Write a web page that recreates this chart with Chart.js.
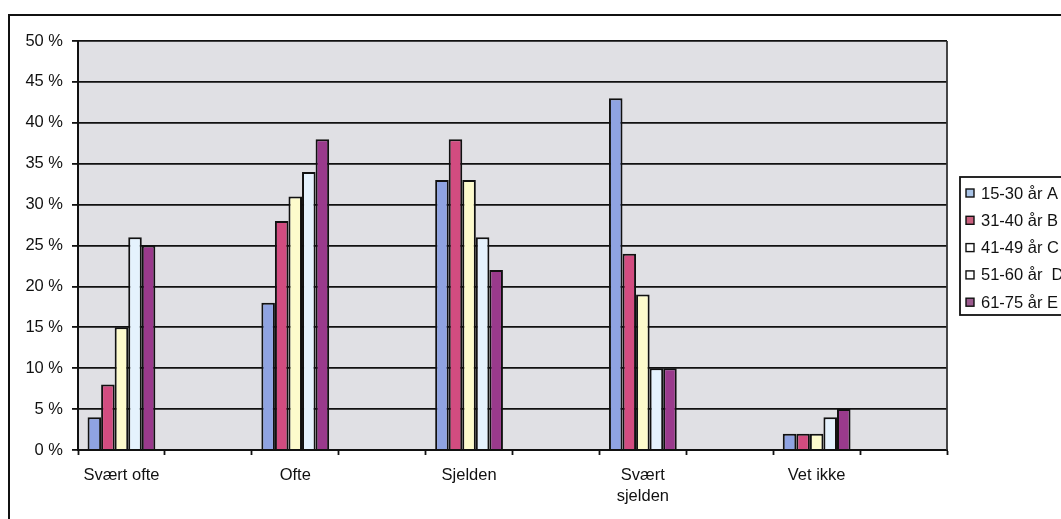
<!DOCTYPE html>
<html lang="no">
<head>
  <meta charset="UTF-8" />
  <title>Aldersgrupper</title>
  <script src="https://cdn.jsdelivr.net/npm/chart.js"></script>
  <style>
    body {
      margin: 0;
      background: #fff;
      overflow: hidden;
      font-family: 'Liberation Sans', Arial, sans-serif;
    }
    .frame {
      position: absolute;
      left: 8px;
      top: 14px;
      width: 1100px;
      height: 600px;
      border-left: 2px solid #111;
      border-top: 2px solid #111;
    }
    .chart-box {
      position: absolute;
      left: 0;
      top: 0;
      width: 1061px;
      height: 519px;
    }
  </style>
</head>
<body>
  <div class="frame"></div>
  <div class="chart-box">
    <canvas id="ageChart"></canvas>
  </div>

  <script>
    // categories (a blank slot sits after each one, as in the original sheet)
    const categories = ['Svært ofte', 'Ofte', 'Sjelden', ['Svært', 'sjelden'], 'Vet ikke'];

    const seriesNames = ['15-30 år A', '31-40 år B', '41-49 år C', '51-60 år  D', '61-75 år E'];
    const groupA = [4, 18, 33, 43, 2];
    const groupB = [8, 28, 38, 24, 2];
    const groupC = [15, 31, 33, 19, 2];
    const groupD = [26, 34, 26, 10, 4];
    const groupE = [25, 38, 22, 10, 5];

    const seriesColors = ['#8fa3e2', '#d24c80', '#fdfbcc', '#e5f2fd', '#9a3a8c'];
    const legendColors = ['#a9c3e6', '#c9607e', '#ffffff', '#ffffff', '#9b5a8e'];

    const yTicks = [0, 5, 10, 15, 20, 25, 30, 35, 40, 45, 50];

    // interleave empty slots between categories
    const labels = [];
    categories.forEach(c => { labels.push(c); labels.push(''); });
    const spread = arr => {
      const out = [];
      arr.forEach(v => { out.push(v); out.push(null); });
      return out;
    };

    const datasets = [groupA, groupB, groupC, groupD, groupE].map((arr, i) => ({
      label: seriesNames[i],
      data: spread(arr),
      backgroundColor: seriesColors[i],
      borderColor: '#111',
      borderWidth: 2,
      borderSkipped: 'bottom',
      categoryPercentage: 0.78,
      barPercentage: 1.0
    }));

    const plotBackground = {
      id: 'plotBackground',
      beforeDraw(chart) {
        const { ctx, chartArea: a } = chart;
        ctx.save();
        ctx.fillStyle = '#e0e0e4';
        ctx.fillRect(a.left, a.top, a.right - a.left, a.bottom - a.top);
        ctx.restore();
      },
      afterDraw(chart) {
        const { ctx, chartArea: a } = chart;
        ctx.save();
        ctx.strokeStyle = '#333';
        ctx.lineWidth = 1.8;
        ctx.beginPath();
        ctx.moveTo(a.right, a.top);
        ctx.lineTo(a.right, a.bottom);
        ctx.stroke();
        ctx.restore();
      }
    };

    // legend box like the spreadsheet one
    const boxLegend = {
      id: 'boxLegend',
      afterDraw(chart) {
        const { ctx } = chart;
        const x = 960, y = 177, h = 138, step = 27.3;
        ctx.save();
        ctx.strokeStyle = '#111';
        ctx.lineWidth = 1.8;
        ctx.strokeRect(x, y, 200, h);
        ctx.font = '16.5px "Liberation Sans", Arial, sans-serif';
        ctx.textBaseline = 'middle';
        chart.data.datasets.forEach((ds, i) => {
          const cy = y + 16 + i * step;
          ctx.fillStyle = legendColors[i];
          ctx.fillRect(966, cy - 4, 8, 8);
          ctx.lineWidth = 1.4;
          ctx.strokeRect(966, cy - 4, 8, 8);
          ctx.fillStyle = '#111';
          ctx.fillText(ds.label, 981, cy + 1);
        });
        ctx.restore();
      }
    };

    new Chart(document.getElementById('ageChart'), {
      type: 'bar',
      data: { labels: labels, datasets: datasets },
      options: {
        responsive: true,
        maintainAspectRatio: false,
        animation: false,
        layout: { padding: { top: 41, right: 114, left: 0, bottom: 0 } },
        plugins: {
          legend: { display: false },
          tooltip: { enabled: false }
        },
        scales: {
          x: {
            grid: {
              drawOnChartArea: false,
              drawTicks: true,
              tickLength: 5,
              tickColor: '#111',
              tickWidth: 1.8
            },
            border: { color: '#111', width: 2 },
            ticks: {
              color: '#111',
              autoSkip: false,
              maxRotation: 0,
              padding: 9,
              font: { family: 'Liberation Sans', size: 16.5, lineHeight: 1.33 }
            },
            afterFit(scale) { scale.height = 69; }
          },
          y: {
            min: 0,
            max: 50,
            afterBuildTicks(scale) { scale.ticks = yTicks.map(v => ({ value: v })); },
            grid: {
              color: '#111',
              lineWidth: 1.8,
              tickLength: 6,
              tickColor: '#111'
            },
            border: { color: '#111', width: 2 },
            ticks: {
              color: '#111',
              padding: 9,
              font: { family: 'Liberation Sans', size: 16.5 },
              callback: v => v + ' %'
            },
            afterFit(scale) { scale.width = 78; }
          }
        }
      },
      plugins: [plotBackground, boxLegend]
    });
  </script>
</body>
</html>
